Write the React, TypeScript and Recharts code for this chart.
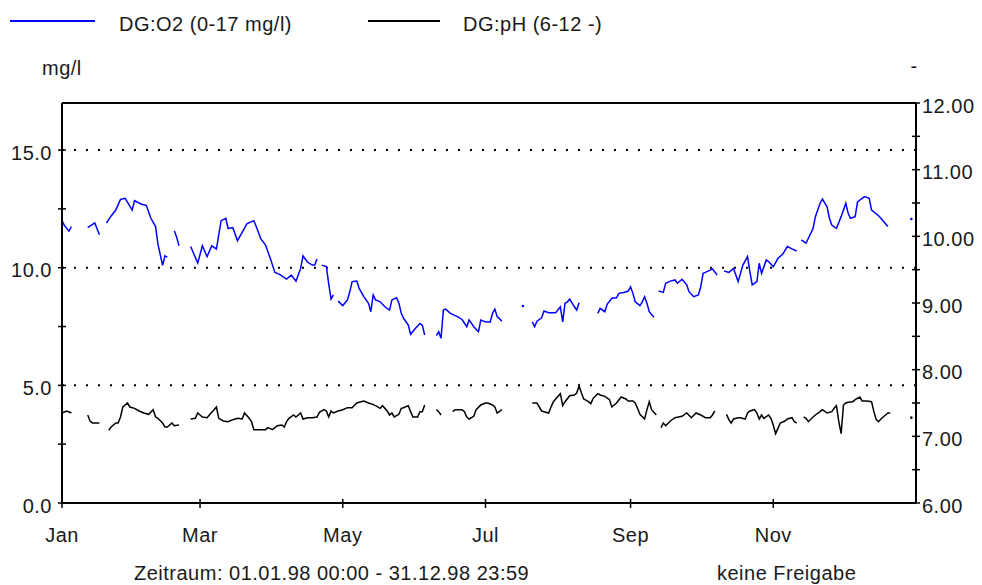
import { LineChart, Line, XAxis, YAxis, ReferenceLine } from 'recharts';

type Pt = [number, number];

// day of year (0 = 1 Jan 1998) and value, one array per unbroken run of the record
const O2_SEGMENTS: Pt[][] = [
  [[0, 12.0], [1, 11.8], [3, 11.55], [4, 11.75]],
  [[11, 11.7], [14, 11.9], [16, 11.4]],
  [[19, 11.9], [21, 12.2], [23, 12.45], [25, 12.9], [27, 12.95], [30, 12.45], [31, 12.85], [34, 12.7], [36, 12.65], [38, 12.1], [40, 11.75], [41, 11.0], [42, 10.55], [43, 10.1], [44, 10.5], [45, 10.45]],
  [[48, 11.57], [49, 11.3], [50, 10.93]],
  [[55, 10.9], [58, 10.2], [60, 10.93], [62, 10.47], [64, 10.93], [66, 10.8], [68, 12.0], [70, 12.1], [71, 11.67], [73, 11.7], [75, 11.15], [77, 11.5], [79, 11.86], [82, 12.0], [83, 11.75], [85, 11.22], [87, 10.96], [89, 10.4], [91, 9.8], [93, 9.72], [96, 9.52], [98, 9.69], [100, 9.43], [102, 9.97], [103, 10.5], [105, 10.23], [107, 10.11], [108, 10.11], [109, 10.37]],
  [[111, 10.11], [113, 10.05], [114, 9.3], [115, 8.67], [116, 8.84]],
  [[118, 8.58], [120, 8.39], [122, 8.63], [123, 8.98], [124, 9.41], [126, 9.43], [127, 9.12], [129, 8.77], [131, 8.49], [132, 8.13], [133, 8.84], [134, 8.63], [136, 8.55], [138, 8.34], [140, 8.2], [141, 8.63], [143, 8.72], [144, 8.49], [145, 8.06], [146, 7.85], [148, 7.56], [149, 7.17], [151, 7.42], [153, 7.63], [154, 7.56], [155, 7.14]],
  [[160, 7.11], [161, 7.28], [162, 7.0], [163, 8.2], [164, 8.24], [166, 8.06], [169, 7.92], [171, 7.8], [173, 7.49], [174, 7.78], [176, 7.49], [178, 7.28], [179, 7.78], [181, 7.7], [183, 7.68], [184, 8.06], [185, 8.24], [186, 7.92], [188, 7.73]],
  [[197, 8.37]],
  [[201, 7.7], [202, 7.49], [203, 7.73], [205, 7.87], [206, 8.16], [208, 8.09], [211, 8.09], [213, 8.34], [214, 7.7], [215, 8.49], [216, 8.55], [217, 8.67], [219, 8.34], [220, 8.2], [221, 8.51]],
  [[229, 8.06], [230, 8.27], [232, 8.13], [233, 8.44], [235, 8.7], [237, 8.72], [238, 8.91], [240, 8.95], [242, 9.01], [243, 9.19], [244, 8.91], [245, 8.55], [247, 8.39], [248, 8.55], [249, 8.77], [250, 8.49], [251, 8.13], [253, 7.89]],
  [[255, 9.01], [257, 8.95], [258, 9.34], [260, 9.43], [262, 9.48], [263, 9.34], [265, 9.51], [267, 9.27], [268, 8.98], [270, 8.77], [272, 8.84], [273, 9.19], [274, 9.76], [275, 9.8], [277, 9.9], [278, 9.95], [280, 9.69]],
  [[283, 9.86], [285, 9.8], [287, 9.97], [289, 9.41], [291, 10.11], [293, 10.47], [294, 9.83], [295, 9.27], [297, 9.41], [298, 10.19], [299, 9.76], [301, 10.33], [302, 10.26], [304, 10.04], [306, 10.4], [308, 10.57], [310, 10.9], [312, 10.8], [314, 10.71]],
  [[316, 11.18], [318, 11.04], [319, 11.25], [321, 11.67], [322, 12.17], [324, 12.74], [325, 12.92], [327, 12.59], [328, 12.1], [329, 11.81], [331, 11.67], [333, 12.17], [335, 12.74], [336, 12.31], [337, 12.1], [339, 12.17], [340, 12.8], [343, 13.02], [345, 12.95], [346, 12.45], [349, 12.21], [350, 12.1], [353, 11.75]],
  [[363, 12.07]],
];

const PH_SEGMENTS: Pt[][] = [
  [[0, 7.35], [2, 7.38], [4, 7.35]],
  [[11, 7.32], [12, 7.23], [13, 7.2], [16, 7.2]],
  [[20, 7.09], [21, 7.14], [23, 7.2], [24, 7.2], [25, 7.29], [26, 7.44], [28, 7.5], [29, 7.44], [31, 7.42], [33, 7.38], [35, 7.35], [37, 7.33], [39, 7.4], [40, 7.29], [41, 7.27], [43, 7.2], [44, 7.14], [45, 7.14], [47, 7.2], [48, 7.16], [50, 7.17]],
  [[55, 7.26], [57, 7.27], [58, 7.35], [60, 7.29], [62, 7.28], [64, 7.36], [65, 7.4], [66, 7.44], [67, 7.27], [69, 7.23], [71, 7.22], [73, 7.25], [75, 7.27], [77, 7.26], [78, 7.35], [80, 7.27], [81, 7.22], [82, 7.1], [85, 7.1], [87, 7.1], [88, 7.13], [90, 7.1], [92, 7.16], [94, 7.17], [95, 7.14], [96, 7.22], [97, 7.27], [99, 7.32], [100, 7.29], [102, 7.35], [103, 7.26], [105, 7.28], [107, 7.28], [109, 7.29], [110, 7.36], [112, 7.4], [113, 7.38], [114, 7.29], [115, 7.38], [116, 7.35], [118, 7.38], [120, 7.4], [122, 7.43], [124, 7.43], [126, 7.5], [127, 7.51], [129, 7.53], [131, 7.5], [132, 7.49], [134, 7.46], [136, 7.42], [137, 7.46], [139, 7.38], [140, 7.32], [141, 7.35], [142, 7.29], [144, 7.33], [145, 7.42], [146, 7.43], [148, 7.46], [149, 7.37], [150, 7.29], [152, 7.29], [153, 7.37], [154, 7.37], [155, 7.47]],
  [[160, 7.4], [161, 7.37], [162, 7.32]],
  [[167, 7.37], [168, 7.4], [171, 7.4], [172, 7.37], [173, 7.29], [174, 7.26], [176, 7.3], [177, 7.4], [179, 7.47], [181, 7.5], [182, 7.5], [184, 7.47], [185, 7.44], [186, 7.35], [188, 7.4]],
  [[201, 7.5], [203, 7.5], [205, 7.38], [206, 7.37], [208, 7.35], [209, 7.44], [210, 7.52], [211, 7.56], [213, 7.64], [214, 7.46], [215, 7.52], [217, 7.61], [219, 7.62], [220, 7.65], [221, 7.76], [222, 7.65], [223, 7.56], [225, 7.52], [226, 7.49], [227, 7.57], [229, 7.64], [230, 7.62], [232, 7.6], [234, 7.55], [235, 7.44], [237, 7.5], [239, 7.59], [241, 7.56], [242, 7.53], [244, 7.53], [245, 7.5], [246, 7.42], [247, 7.33], [249, 7.26], [250, 7.4], [251, 7.52], [252, 7.4], [254, 7.32]],
  [[256, 7.13], [257, 7.2], [258, 7.16], [260, 7.23], [262, 7.28], [265, 7.3], [267, 7.35], [269, 7.28], [271, 7.35], [273, 7.32], [275, 7.28], [277, 7.28], [278, 7.32], [279, 7.38]],
  [[284, 7.33], [285, 7.25], [286, 7.2], [287, 7.26], [289, 7.28], [290, 7.28], [292, 7.26], [293, 7.35], [294, 7.38], [296, 7.4], [297, 7.35], [298, 7.26], [299, 7.32], [300, 7.27], [302, 7.32], [303, 7.27], [304, 7.17], [305, 7.04], [306, 7.12], [307, 7.2], [309, 7.23], [310, 7.26], [312, 7.28], [313, 7.22], [314, 7.2]],
  [[317, 7.29], [318, 7.27], [319, 7.22], [321, 7.29], [322, 7.32], [324, 7.37], [325, 7.4], [327, 7.35], [329, 7.37], [330, 7.42], [331, 7.46], [332, 7.22], [333, 7.04], [334, 7.47], [335, 7.5], [336, 7.51], [338, 7.52], [339, 7.55], [341, 7.59], [342, 7.53], [344, 7.53], [346, 7.52], [347, 7.37], [348, 7.25], [349, 7.22], [350, 7.26], [352, 7.32], [353, 7.35], [354, 7.35]],
  [[363, 7.28]],
];

const MONTH_TICKS = [0, 59, 120, 181, 243, 304];
const MONTH_LABELS = ['Jan', 'Mar', 'May', 'Jul', 'Sep', 'Nov'];
const O2_TICKS = [0, 2.5, 5, 7.5, 10, 12.5, 15];
const PH_TICKS = [6, 6.5, 7, 7.5, 8, 8.5, 9, 9.5, 10, 10.5, 11, 11.5, 12];
const GRID_LINES = [5, 10, 15];

const FONT = '"Liberation Sans", Arial, sans-serif';
const TEXT = '#1a1a1a';
const txt = { fontFamily: FONT, fontSize: 20, letterSpacing: 0.5, fill: TEXT };

// breaks between runs become null rows so the line is cut there
function toRows(segments: Pt[][], key: string) {
  const rows: any[] = [];
  segments.forEach((seg, i) => {
    seg.forEach(([day, v]) => rows.push({ day, [key]: v, single: seg.length === 1 }));
    if (i < segments.length - 1) rows.push({ day: seg[seg.length - 1][0] + 0.5, [key]: null });
  });
  return rows;
}

const o2Rows = toRows(O2_SEGMENTS, 'o2');
const phRows = toRows(PH_SEGMENTS, 'ph');

const lonePoint = (color: string) => (p: any) =>
  p.payload?.single && p.cy != null ? (
    <circle key={p.index} cx={p.cx} cy={p.cy} r={1.3} fill={color} />
  ) : (
    <g key={p.index} />
  );

function LeftTick({ x, y, payload }: any) {
  const ax = x + 6;
  const v = payload.value;
  return (
    <g>
      <line x1={ax - 4} x2={ax + 4} y1={y} y2={y} stroke="#000" strokeWidth={1.5} />
      {v % 5 === 0 && (
        <text x={ax - 10} y={y + 9.5} textAnchor="end" {...txt}>
          {v.toFixed(1)}
        </text>
      )}
    </g>
  );
}

function RightTick({ x, y, payload }: any) {
  const ax = x - 6;
  const v = payload.value;
  return (
    <g>
      <line x1={ax - 4} x2={ax + 4} y1={y} y2={y} stroke="#000" strokeWidth={1.5} />
      {Number.isInteger(v) && (
        <text x={ax + 6} y={y + 9.5} textAnchor="start" {...txt}>
          {v.toFixed(2)}
        </text>
      )}
    </g>
  );
}

function MonthTick({ x, y, payload }: any) {
  const ay = y - 6;
  const i = MONTH_TICKS.indexOf(payload.value);
  return (
    <g>
      <line x1={x} x2={x} y1={ay - 4} y2={ay + 5} stroke="#000" strokeWidth={1.5} />
      <text x={x} y={ay + 39} textAnchor="middle" {...txt}>
        {MONTH_LABELS[i]}
      </text>
    </g>
  );
}

export default function App() {
  return (
    <div style={{ position: 'absolute', left: 0, top: 0, width: 982, height: 585, background: '#fff' }}>
      <LineChart width={982} height={585} margin={{ top: 103, right: 0, bottom: 0, left: 0 }}>
        <XAxis
          dataKey="day"
          type="number"
          domain={[0, 365]}
          ticks={MONTH_TICKS}
          interval={0}
          height={82}
          tickSize={4}
          tickMargin={2}
          tickLine={false}
          tick={<MonthTick />}
          axisLine={{ stroke: '#000', strokeWidth: 2 }}
          allowDuplicatedCategory={false}
        />
        <YAxis
          yAxisId="left"
          orientation="left"
          width={62}
          domain={[0, 17]}
          ticks={O2_TICKS}
          interval={0}
          tickSize={4}
          tickMargin={2}
          tickLine={false}
          tick={<LeftTick />}
          axisLine={{ stroke: '#000', strokeWidth: 2 }}
        />
        <YAxis
          yAxisId="right"
          orientation="right"
          width={66}
          domain={[6, 12]}
          ticks={PH_TICKS}
          interval={0}
          tickSize={4}
          tickMargin={2}
          tickLine={false}
          tick={<RightTick />}
          axisLine={{ stroke: '#000', strokeWidth: 2 }}
        />
        {GRID_LINES.map((g) => (
          <ReferenceLine key={g} yAxisId="left" y={g} stroke="#000" strokeWidth={2} strokeDasharray="2 10" />
        ))}
        <ReferenceLine yAxisId="left" y={17} stroke="#000" strokeWidth={2} />
        <Line
          yAxisId="left"
          data={o2Rows}
          dataKey="o2"
          stroke="#0000ff"
          strokeWidth={1.5}
          dot={lonePoint('#0000ff')}
          activeDot={false}
          connectNulls={false}
          isAnimationActive={false}
        />
        <Line
          yAxisId="right"
          data={phRows}
          dataKey="ph"
          stroke="#000"
          strokeWidth={1.5}
          dot={lonePoint('#000')}
          activeDot={false}
          connectNulls={false}
          isAnimationActive={false}
        />
      </LineChart>
      <svg width={982} height={585} style={{ position: 'absolute', left: 0, top: 0, pointerEvents: 'none' }}>
        <line x1={10} x2={95} y1={21} y2={21} stroke="#0000ff" strokeWidth={2} />
        <text x={119} y={30.5} {...txt}>DG:O2 (0-17 mg/l)</text>
        <line x1={368} x2={440} y1={21} y2={21} stroke="#000" strokeWidth={2} />
        <text x={463} y={30.5} {...txt}>DG:pH (6-12 -)</text>
        <text x={42} y={75} {...txt}>mg/l</text>
        <text x={914} y={73} textAnchor="middle" {...txt}>-</text>
        <text x={134} y={579.5} {...txt}>Zeitraum: 01.01.98 00:00 - 31.12.98 23:59</text>
        <text x={717} y={579.5} {...txt}>keine Freigabe</text>
      </svg>
    </div>
  );
}
